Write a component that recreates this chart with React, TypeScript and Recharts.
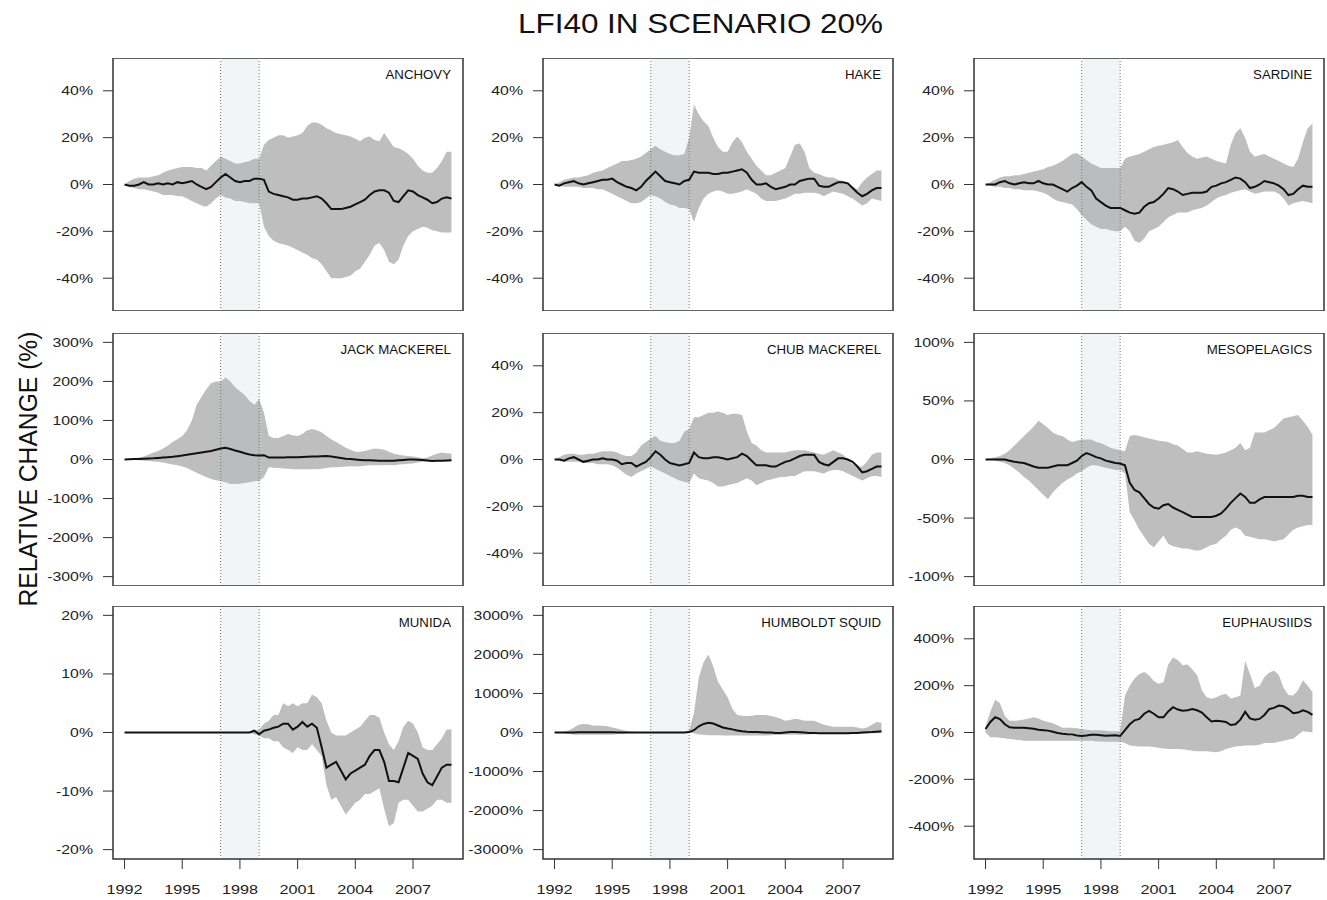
import React from 'react';
import { Area, ComposedChart, Line, ReferenceArea, ReferenceLine, XAxis, YAxis } from 'recharts';

// quarterly time steps, 1992.00 .. 2009.00
const YEARS = Array.from({ length: 69 }, (_, i) => 1992 + i * 0.25);
const YEAR_TICKS = [1992, 1995, 1998, 2001, 2004, 2007];
const X_DOMAIN: [number, number] = [1991.4, 2009.6];
const EVENT_START = 1997;
const EVENT_END = 1999;

const ANCHOVY_MID = [
  0, -0.5, -0.5, 0, 1, 0, 0, 0.5, 0, 0.5, 0, 1, 0.5, 1, 1.5, 0, -1, -2, -1, 1,
  3, 4.5, 3, 1.5, 1, 1.5, 1.5, 2.5, 2.5, 2, -3, -4, -4.5, -5, -5.5, -6.5, -6.5, -6, -6, -5.5,
  -5, -6, -8, -10.5, -10.5, -10.5, -10, -9.5, -8.5, -7.5, -6.5, -4.5, -3, -2.5, -2.5, -3.5,
  -7, -7.5, -5, -2.5, -3, -4.5, -5.5, -6.5, -8, -7.5, -6, -5.5, -6,
];
const ANCHOVY_HI = [
  0, 1.5, 2.5, 3, 3, 3, 3.5, 4, 5, 6, 6.5, 7, 7.5, 7.5, 7.5, 7, 7, 6, 8, 10,
  12, 11, 10, 9, 9, 9.5, 10, 11, 11, 17, 19, 20, 21, 21, 20, 20.5, 21, 22, 25, 26.5,
  26.5, 25.5, 24, 23, 22, 21.5, 21, 20.5, 19.5, 18.5, 20, 20.5, 19, 18.5, 22, 19,
  16, 15.5, 14.5, 13, 11, 8, 6, 5, 5, 7, 10, 14, 14,
];
const ANCHOVY_LO = [
  0, -1, -1.5, -2, -2, -2.5, -3, -3.5, -4.5, -4.5, -4.5, -5, -5, -6, -7, -8, -9, -9.5, -8, -6,
  -4.5, -5.5, -6, -7, -7, -7.5, -8, -8, -8, -18, -22, -24, -25, -25.5, -26, -27, -28, -29, -30, -31.5,
  -32, -34, -37, -40, -40, -40, -39.5, -39, -37, -36, -33, -30, -26, -25, -28, -33,
  -34, -32, -26, -22, -20, -19, -18, -18.5, -19.5, -20, -20.5, -20.5, -20.5,
];

const HAKE_MID = [
  0, -0.5, 0.5, 1, 1.5, 0.5, 0, 0.5, 1, 1.5, 2, 2, 2.5, 1, 0, -1, -1.5, -2.5, -1, 1.5,
  3.5, 5.5, 3.5, 1.5, 1, 0.5, 0, 1.5, 2, 5.5, 5, 5, 5, 4.5, 4.5, 5, 5, 5.5, 6, 6.5,
  5, 2, 0, 0, 0.5, -1, -2, -1.5, -1, 0, 0, 1.5, 2, 2.5, 2.5, -0.5,
  -1, -1, 0, 1, 1, 0.5, -1.5, -3.5, -5, -4, -2.5, -1.5, -1.5,
];
const HAKE_HI = [
  0, 1, 2, 2.5, 3, 3, 3.5, 4, 5, 5.5, 6, 7, 8, 9, 10, 10, 10.5, 11, 12, 13.5,
  15, 16.5, 15, 14, 13, 12.5, 12.5, 13, 20, 34, 30, 27, 25, 20, 16, 14, 14, 18, 20.5, 18,
  14, 11, 8, 6, 4, 4, 5, 6, 7, 12, 17, 17.5, 14, 7, 5, 4.5,
  3.5, 3, 3, 2, 1.5, 0.5, -1, -2, 1, 3, 4.5, 6, 6,
];
const HAKE_LO = [
  0, -0.5, -1, -1, -1, -1, -1.5, -1.5, -1.5, -2, -2, -3, -4, -5, -6, -7, -8, -8, -7.5, -6,
  -4.5, -5, -6, -7.5, -8.5, -9, -10, -10, -10.5, -16, -10, -6, -4, -3, -2.5, -3, -4, -4, -3.5, -3,
  -2, -3, -4, -6, -7, -7, -7, -6.5, -6, -5, -4, -4, -3.5, -3.5, -3.5, -4,
  -5, -4, -3, -3.5, -4, -5, -6, -7.5, -9, -8, -6, -6.5, -7,
];

const SARDINE_MID = [
  0, 0, 0, 1, 1.5, 0.5, 0, 0.5, 1, 0.5, 0.5, 1.5, 0.5, 0, 0, -1, -2, -3, -1.5, -0.5,
  1, -1, -2.5, -6, -7.5, -9, -10, -10, -10, -11, -12, -12.5, -12, -9.5, -8, -7.5, -6, -4, -1.5, -2,
  -3, -4.5, -4, -3.5, -3.5, -3.5, -3, -1, -0.5, 0.5, 1, 2, 3, 2.5, 1, -1.5,
  -1, 0, 1.5, 1, 0.5, -0.5, -2, -4.5, -4, -2, -0.5, -1, -1,
];
const SARDINE_HI = [
  0, 1, 2, 3, 3.5, 3.5, 4, 4, 4.5, 5, 5.5, 6, 6.5, 7.5, 8, 9, 10, 11.5, 13, 13.5,
  12, 10.5, 9, 8, 7, 7, 7, 7, 7, 11, 12, 12.5, 13, 14, 15, 16, 16.5, 17, 17.5, 18,
  19, 16, 13.5, 12, 11, 11.5, 12, 11, 10, 9.5, 9, 17, 22, 24, 20, 14,
  12, 12.5, 13, 12, 11, 10, 9, 8, 7.5, 11, 18, 24, 26,
];
const SARDINE_LO = [
  0, -0.5, -1, -1, -1.5, -1.5, -2, -2, -2.5, -2.5, -2.5, -3, -3.5, -4.5, -6, -7, -7.5, -8, -8.5, -10.5,
  -13, -15, -17, -18, -19, -19, -19.5, -20, -20, -18, -20, -24, -25, -23, -20, -19, -18, -16, -14, -13,
  -12, -12, -12, -11, -10.5, -10, -9, -7.5, -6, -5, -4.5, -3.5, -3, -2.5, -2, -3,
  -4, -3.5, -3, -3, -3, -4, -6, -9, -8, -7.5, -7, -7.5, -8,
];

const JACK_MID = [
  0, 0.5, 1, 1.5, 2, 2.5, 3, 4, 5, 6, 7, 8.5, 10, 12, 14, 16, 18, 20, 22, 25,
  28, 30, 27, 23, 20, 16, 13, 11, 10, 11, 5, 5, 5, 5, 5.5, 5.5, 6, 6.5, 7, 7.5,
  8, 8.5, 9, 7.5, 6, 4, 2, 1, 0, -1, -2, -2, -2.5, -3, -3, -3,
  -3, -2, -1, 0, 0, -0.5, -1, -2.5, -4, -3.5, -3, -2.5, -2,
];
const JACK_HI = [
  0, 1, 3, 5, 8, 12, 18, 22, 28, 35, 45, 52, 60, 75, 100, 140, 160, 180, 195, 200,
  200, 210, 200, 185, 175, 165, 150, 140, 155, 120, 60, 55, 55, 60, 65, 62, 60, 65, 75, 78,
  75, 70, 60, 52, 45, 38, 30, 25, 20, 20, 22, 25, 28, 27, 25, 20,
  15, 12, 10, 9, 8, 6, 3, 5, 10, 15, 18, 16, 15,
];
const JACK_LO = [
  0, -1, -1.5, -2, -3, -4, -5, -6, -8, -10, -13, -15, -18, -22, -28, -34, -40, -45, -50, -53,
  -55, -58, -63, -63, -62, -60, -58, -56, -55, -45, -20, -21, -22, -23, -24, -25, -25, -25, -25, -25,
  -25, -24, -22, -20, -20, -19, -18, -17, -18, -17, -16, -15, -15, -15, -15, -14,
  -15, -13, -12, -11, -10, -8, -6, -5, -5, -5, -5, -5, -5,
];

const CHUB_MID = [
  0, 0, -0.5, 0.5, 1, 0, -1, -0.5, 0, 0, 0.5, 0, 0, -0.5, -2, -1.5, -1.5, -3, -2, -1,
  1, 3.5, 2, 0, -1.5, -2, -2.5, -2, -1.5, 3, 1, 0.5, 0.5, 1, 1, 0.5, 0, 0.5, 1, 2.5,
  1.5, -0.5, -2.5, -2.5, -2.5, -3, -3, -2, -1, -0.5, 0.5, 1.5, 2, 2, 2, -1,
  -2, -2.5, -1, 0.5, 0.5, 0, -1, -3, -5.5, -5, -4, -3, -3,
];
const CHUB_HI = [
  0, 1, 2, 2.5, 2.5, 2, 2, 2.5, 2.5, 3, 3.5, 3.5, 3.5, 3, 2, 1.5, 1.5, 3, 6, 7.5,
  9, 10, 8, 7.5, 7, 7, 8, 12, 13, 18, 18, 19, 20, 20, 20.5, 20, 19, 19.5, 19.5, 19,
  12, 7, 6, 4, 3, 3, 3, 3, 3, 3.5, 4, 4, 4, 3.5, 3, 2.5,
  2, 3, 4, 3, 2, 0, -2, -3, -3, -1, 2, 3, 3,
];
const CHUB_LO = [
  0, -0.5, -1, -1, -1, -1, -1.5, -1.5, -1.5, -2, -2, -2, -2.5, -3.5, -5, -6.5, -7.5, -6, -5, -4,
  -3, -4, -5, -6, -7, -8, -9, -9.5, -10, -6, -8, -8.5, -9, -10, -11.5, -11.5, -11, -10.5, -10, -9,
  -8, -9, -11, -10, -9, -8.5, -8, -7.5, -7.5, -7, -7, -6, -5, -5, -5, -5.5,
  -6, -5, -4.5, -4.5, -5, -6, -7, -8, -9, -8, -7, -7, -7.5,
];

const MESO_MID = [
  0, 0, 0, 0, 0, -1, -2, -2.5, -3, -4.5, -6, -7, -7, -7, -6, -5, -5, -5, -3, -1,
  3, 5.5, 4, 2, 1, -1, -2, -3, -3.5, -5, -20, -26, -28, -33, -38, -41, -42, -39, -38, -41,
  -43, -45, -47, -49, -49, -49, -49, -49, -48, -46, -42, -37, -33, -29, -32, -37,
  -37, -34, -32, -32, -32, -32, -32, -32, -32, -31, -31, -32, -32,
];
const MESO_HI = [
  0, 1, 2, 3, 5, 8, 12, 16, 20, 24, 28, 33, 30, 27, 23, 21, 20, 17, 15, 16,
  17, 17, 17, 15, 14, 12, 10, 9, 8, 7, 20, 21, 20, 19, 18, 17, 16, 15.5, 15, 13,
  12, 9, 6, 6, 7, 6, 5, 4.5, 4, 5, 6, 8, 10, 14, 8, 10,
  23, 23, 23, 25, 27, 31, 35, 36, 37, 38, 33, 28, 21,
];
const MESO_LO = [
  0, 0, -1, -2, -3, -5, -8, -11, -15, -18, -22, -26, -30, -34, -28, -24, -20, -17, -15, -12,
  -10, -7, -5, -5, -6, -7, -8, -9, -9, -12, -45, -52, -60, -66, -72, -75, -70, -65, -72, -74,
  -75, -76, -76, -77, -78, -77, -75, -73, -72, -68, -65, -60, -58, -60, -65, -66,
  -67, -68, -68, -69, -70, -69, -68, -64, -60, -58, -57, -56, -56,
];

const MUNIDA_MID = [
  0, 0, 0, 0, 0, 0, 0, 0, 0, 0, 0, 0, 0, 0, 0, 0, 0, 0, 0, 0,
  0, 0, 0, 0, 0, 0, 0, 0.3, -0.3, 0.3, 0.5, 0.8, 1, 1.5, 1.5, 0.5, 1, 1.8, 1, 1.5,
  0.8, -2.5, -6, -5.5, -5, -6.5, -8, -7, -6.5, -6, -5.5, -4, -3, -3, -5, -8.3,
  -8.3, -8.5, -6, -3.5, -4, -4.5, -7, -8.5, -9, -7.5, -6, -5.5, -5.5,
];
const MUNIDA_HI = [
  0, 0, 0, 0, 0, 0, 0, 0, 0, 0, 0, 0, 0, 0, 0, 0, 0, 0, 0, 0,
  0, 0, 0, 0, 0, 0, 0, 0.3, 0.5, 1.5, 2, 3, 3, 5, 4.5, 5, 4.5, 5, 5, 6.5,
  6, 5, 2, 0, -0.5, -0.5, -0.5, 0, 0.5, 1, 2, 3, 3, 2.5, 0, -2,
  -3, -1.5, 1, 2, 1.5, 0, -2.5, -3, -3, -2, -1, 0.5, 0.5,
];
const MUNIDA_LO = [
  0, 0, 0, 0, 0, 0, 0, 0, 0, 0, 0, 0, 0, 0, 0, 0, 0, 0, 0, 0,
  0, 0, 0, 0, 0, 0, 0, -0.3, -0.5, -1, -1, -1.5, -1.5, -2.5, -3, -3.5, -2.5, -3, -3, -2,
  -3, -4, -9, -11.5, -11, -12.5, -14, -13, -12, -11.5, -10.5, -10.5, -10, -9.5, -13, -16,
  -15.5, -12, -11.5, -11.5, -12.5, -13.5, -13.5, -13, -12.5, -11.5, -11.5, -12, -12,
];

const SQUID_MID = [
  0, 0, 0, 0, 0, 5, 5, 5, 5, 5, 5, 5, 5, 0, 0, 0, 0, 0, 0, 0,
  0, 0, 0, 0, 0, 0, 0, 0, 10, 60, 160, 220, 250, 230, 180, 130, 100, 80, 50, 30,
  20, 15, 10, 5, 0, 0, -10, -10, 0, 10, 10, 5, 0, -10, -15, -20,
  -20, -20, -20, -20, -20, -20, -15, -10, 0, 5, 10, 20, 30,
];
const SQUID_HI = [
  0, 10, 20, 60, 120, 200, 220, 210, 180, 180, 170, 160, 130, 100, 70, 40, 20, 10, 0, 0,
  0, 0, 0, 0, 0, 0, 0, 10, 50, 500, 1400, 1800, 2000, 1700, 1300, 1100, 900, 600, 450, 430,
  420, 430, 450, 450, 450, 420, 400, 350, 300, 320, 350, 330, 300, 300, 300, 250,
  200, 170, 150, 150, 150, 150, 150, 130, 100, 130, 200, 270, 250,
];
const SQUID_LO = [
  0, -10, -20, -40, -60, -60, -60, -60, -60, -60, -60, -60, -60, -40, -30, -20, -10, -5, 0, 0,
  0, 0, 0, 0, 0, 0, 0, 0, 0, -20, -50, -60, -70, -70, -70, -75, -80, -80, -80, -80,
  -80, -80, -80, -80, -80, -70, -60, -60, -60, -60, -60, -60, -60, -50, -40, -40,
  -40, -40, -40, -35, -30, -30, -30, -30, -30, -25, -20, -20, -20,
];

const EUPH_MID = [
  15, 45, 65, 57, 35, 22, 20, 20, 20, 18, 16, 12, 10, 8, 3, -2, -5, -7, -8, -13,
  -15, -13, -10, -10, -12, -14, -13, -12, -15, 10, 35, 52, 58, 80, 92, 80, 65, 65, 90, 108,
  98, 93, 95, 100, 95, 85, 65, 47, 50, 48, 45, 32, 35, 55, 88, 60,
  55, 58, 75, 100, 105, 115, 112, 100, 82, 85, 95, 88, 75,
];
const EUPH_HI = [
  25, 90, 140, 125, 70, 50, 50, 52, 55, 60, 65, 60, 50, 45, 40, 30, 20, 20, 20, 18,
  15, 12, 10, 10, 10, 8, 5, 5, 5, 158, 200, 230, 250, 258, 244, 220, 208, 215, 290, 320,
  310, 287, 290, 270, 244, 180, 150, 144, 150, 160, 165, 145, 150, 158, 305, 250,
  190, 200, 237, 255, 265, 245, 190, 160, 158, 180, 223, 200, 173,
];
const EUPH_LO = [
  0, -20, -20, -22, -25, -28, -30, -32, -35, -35, -35, -35, -35, -35, -35, -35, -35, -35, -35, -35,
  -35, -35, -35, -38, -38, -40, -40, -40, -40, -45, -55, -58, -60, -60, -60, -62, -65, -68, -70, -70,
  -70, -72, -75, -78, -80, -80, -80, -82, -84, -80, -70, -65, -60, -58, -55, -55,
  -55, -52, -45, -45, -45, -40, -35, -30, -27, -10, 5, 3, 0,
];

const PCT_SMALL = [-40, -20, 0, 20, 40];

const panels = [
  { name: 'ANCHOVY', lim: 50, ticks: PCT_SMALL, mid: ANCHOVY_MID, lo: ANCHOVY_LO, hi: ANCHOVY_HI },
  { name: 'HAKE', lim: 50, ticks: PCT_SMALL, mid: HAKE_MID, lo: HAKE_LO, hi: HAKE_HI },
  { name: 'SARDINE', lim: 50, ticks: PCT_SMALL, mid: SARDINE_MID, lo: SARDINE_LO, hi: SARDINE_HI },
  { name: 'JACK MACKEREL', lim: 300, ticks: [-300, -200, -100, 0, 100, 200, 300], mid: JACK_MID, lo: JACK_LO, hi: JACK_HI },
  { name: 'CHUB MACKEREL', lim: 50, ticks: PCT_SMALL, mid: CHUB_MID, lo: CHUB_LO, hi: CHUB_HI },
  { name: 'MESOPELAGICS', lim: 100, ticks: [-100, -50, 0, 50, 100], mid: MESO_MID, lo: MESO_LO, hi: MESO_HI },
  { name: 'MUNIDA', lim: 20, ticks: [-20, -10, 0, 10, 20], mid: MUNIDA_MID, lo: MUNIDA_LO, hi: MUNIDA_HI },
  { name: 'HUMBOLDT SQUID', lim: 3000, ticks: [-3000, -2000, -1000, 0, 1000, 2000, 3000], mid: SQUID_MID, lo: SQUID_LO, hi: SQUID_HI },
  { name: 'EUPHAUSIIDS', lim: 500, ticks: [-400, -200, 0, 200, 400], mid: EUPH_MID, lo: EUPH_LO, hi: EUPH_HI },
];

const FONT = '"Liberation Sans", Arial, Helvetica, sans-serif';
const COL_LEFT = [113, 543, 974];
const ROW_TOP = [58, 333, 606];
const BOX_W = 350;
const BOX_H = 253;
const Y_AXIS_W = 100;
const X_AXIS_H = 45;

const YTick = (props: any) => {
  const { x, y, payload } = props;
  return (
    <g transform={`translate(${x},${y})`}>
      <text transform="scale(1.22,1)" textAnchor="end" dy="0.35em" fontSize={13} fill="#222" fontFamily={FONT}>
        {`${payload.value}%`}
      </text>
    </g>
  );
};

const XTick = (props: any) => {
  const { x, y, payload } = props;
  return (
    <g transform={`translate(${x},${y})`}>
      <text transform="scale(1.2,1)" textAnchor="middle" dy="0.71em" fontSize={13.5} fill="#222" fontFamily={FONT}>
        {payload.value}
      </text>
    </g>
  );
};

const Panel = ({ panel, left, top, showX }: any) => {
  const data = YEARS.map((year, i) => ({
    year,
    band: [panel.lo[i], panel.hi[i]],
    mid: panel.mid[i],
  }));
  const yMax = panel.lim * 1.08;
  const width = Y_AXIS_W + BOX_W + 10;
  const height = BOX_H + (showX ? X_AXIS_H : 0);

  return (
    <div style={{ position: 'absolute', left: left - Y_AXIS_W, top, width, height }}>
      <ComposedChart width={width} height={height} data={data} margin={{ top: 0, right: 10, bottom: 0, left: 0 }}>
        <XAxis
          dataKey="year"
          type="number"
          domain={X_DOMAIN}
          ticks={YEAR_TICKS}
          interval={0}
          allowDataOverflow
          hide={!showX}
          height={X_AXIS_H}
          axisLine={false}
          tickLine={{ stroke: '#333' }}
          tickSize={10}
          tickMargin={15}
          tick={XTick}
        />
        <YAxis
          type="number"
          domain={[-yMax, yMax]}
          ticks={panel.ticks}
          interval={0}
          allowDataOverflow
          width={Y_AXIS_W}
          axisLine={false}
          tickLine={{ stroke: '#333' }}
          tickSize={10}
          tickMargin={10}
          tick={YTick}
        />
        <Area
          dataKey="band"
          type="linear"
          stroke="none"
          fill="#bebebe"
          fillOpacity={1}
          dot={false}
          activeDot={false}
          isAnimationActive={false}
        />
        <ReferenceArea x1={EVENT_START} x2={EVENT_END} fill="#9fb9b9" fillOpacity={0.15} stroke="none" />
        <ReferenceLine x={EVENT_START} stroke="#777" strokeDasharray="1 2" />
        <ReferenceLine x={EVENT_END} stroke="#777" strokeDasharray="1 2" />
        <Line
          dataKey="mid"
          type="linear"
          stroke="#111"
          strokeWidth={2}
          dot={false}
          activeDot={false}
          isAnimationActive={false}
        />
        <ReferenceArea
          x1={X_DOMAIN[0]}
          x2={X_DOMAIN[1]}
          y1={-yMax}
          y2={yMax}
          fill="none"
          stroke="#333"
          strokeWidth={1.5}
          ifOverflow="visible"
        />
      </ComposedChart>
    </div>
  );
};

export default function App() {
  return (
    <div style={{ position: 'absolute', left: 0, top: 0, width: 1327, height: 900, background: '#fff' }}>
      {panels.map((p, i) => (
        <Panel key={p.name} panel={p} left={COL_LEFT[i % 3]} top={ROW_TOP[Math.floor(i / 3)]} showX={i >= 6} />
      ))}
      <svg width={1327} height={900} style={{ position: 'absolute', left: 0, top: 0, pointerEvents: 'none' }}>
        <text x={700.5} y={33} textAnchor="middle" fontSize={28} textLength={365} lengthAdjust="spacingAndGlyphs" fill="#111" fontFamily={FONT}>
          LFI40 IN SCENARIO 20%
        </text>
        <text
          transform="translate(36.5,469) rotate(-90)"
          textAnchor="middle"
          fontSize={25}
          textLength={275}
          lengthAdjust="spacingAndGlyphs"
          fill="#111"
          fontFamily={FONT}
        >
          RELATIVE CHANGE (%)
        </text>
        {panels.map((p, i) => (
          <g key={p.name} transform={`translate(${COL_LEFT[i % 3] + BOX_W - 12},${ROW_TOP[Math.floor(i / 3)] + 21})`}>
            <text transform="scale(1.06,1)" textAnchor="end" fontSize={12.5} fill="#111" fontFamily={FONT}>
              {p.name}
            </text>
          </g>
        ))}
      </svg>
    </div>
  );
}
